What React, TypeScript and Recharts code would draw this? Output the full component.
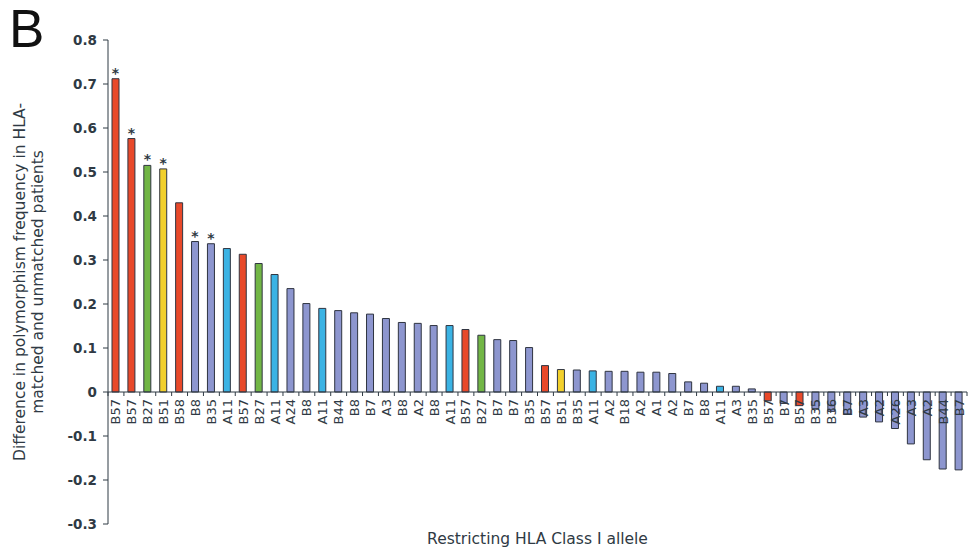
import React from "react";
import { BarChart, Bar, XAxis, YAxis, ReferenceLine, Cell, LabelList, Label } from "recharts";

// restricting allele for each bar, left to right
const alleles = [
  "B57", "B57", "B27", "B51", "B58", "B8", "B35", "A11", "B57", "B27",
  "A11", "A24", "B8", "A11", "B44", "B8", "B7", "A3", "B8", "A2",
  "B8", "A11", "B57", "B27", "B7", "B7", "B35", "B57", "B51", "B35",
  "A11", "A2", "B18", "A2", "A1", "A2", "B7", "B8", "A11", "A3",
  "B35", "B57", "B7", "B57", "B35", "B36", "B7", "A3", "A2", "A26",
  "A3", "A2", "B44", "B7",
];

const differences = [
  0.712, 0.576, 0.515, 0.507, 0.43, 0.342, 0.337, 0.326, 0.313, 0.292,
  0.267, 0.235, 0.201, 0.19, 0.185, 0.18, 0.177, 0.167, 0.158, 0.156,
  0.151, 0.151, 0.142, 0.129, 0.119, 0.117, 0.101, 0.06, 0.051, 0.05,
  0.048, 0.047, 0.047, 0.045, 0.045, 0.042, 0.023, 0.02, 0.013, 0.013,
  0.007, -0.02, -0.026, -0.031, -0.038, -0.044, -0.05, -0.057, -0.068, -0.083,
  -0.118, -0.154, -0.175, -0.177,
];

// bars marked with an asterisk (significant)
const starredBars = [0, 1, 2, 3, 5, 6];

const yTicks = [0.8, 0.7, 0.6, 0.5, 0.4, 0.3, 0.2, 0.1, 0, -0.1, -0.2, -0.3];

const data = alleles.map((allele, i) => ({
  allele,
  value: differences[i],
  star: starredBars.includes(i) ? "*" : "",
}));

const alleleColor: Record<string, string> = {
  B57: "#e8492a",
  B58: "#e8492a",
  B27: "#72b646",
  B51: "#f2d02c",
  A11: "#3bb3e4",
};
const otherColor = "#8d96cf";

const W = 971;
const H = 551;
const margin = { top: 40, right: 4, left: 0, bottom: 0 };
const Y_AXIS_W = 108;
const X_AXIS_H = 27;
const PLOT_H = H - margin.top - margin.bottom - X_AXIS_H;
const PLOT_W = W - margin.left - margin.right - Y_AXIS_W;
const ZERO_Y = margin.top + (PLOT_H * 0.8) / 1.1;
const BAND = PLOT_W / alleles.length;
const INK = "#2f3a44";

function AlleleTick(props: any) {
  const { x, payload, index } = props;
  const last = index === alleles.length - 1;
  return (
    <g>
      <line x1={x - BAND / 2} x2={x - BAND / 2} y1={ZERO_Y} y2={ZERO_Y + 4} stroke={INK} />
      {last && <line x1={x + BAND / 2} x2={x + BAND / 2} y1={ZERO_Y} y2={ZERO_Y + 4} stroke={INK} />}
      <text
        transform={`translate(${x}, ${ZERO_Y + 7}) rotate(-90)`}
        textAnchor="end"
        dominantBaseline="central"
        fontSize={13}
        fill={INK}
      >
        {payload.value}
      </text>
    </g>
  );
}

function YTitle() {
  return (
    <text transform="translate(25, 282) rotate(-90)" textAnchor="middle" fontSize={15.5} fill={INK}>
      <tspan x={0} dy={0}>Difference in polymorphism frequency in HLA-</tspan>
      <tspan x={0} dy={18}>matched and unmatched patients</tspan>
    </text>
  );
}

function XTitle() {
  return (
    <text x={Y_AXIS_W + PLOT_W / 2} y={544} textAnchor="middle" fontSize={15.5} fill={INK}>
      Restricting HLA Class I allele
    </text>
  );
}

function Star(props: any) {
  const { x, y, width, value } = props;
  if (!value) return null;
  return (
    <text x={x + width / 2} y={y - 1} textAnchor="middle" fontSize={14} fontWeight="bold" fill={INK}>
      {value}
    </text>
  );
}

export default function App() {
  return (
    <div style={{ position: "absolute", left: 0, top: 0, width: W, height: H, background: "#fff" }}>
      <div
        style={{
          position: "absolute",
          left: 9,
          top: 2,
          fontSize: 53,
          lineHeight: "53px",
          fontFamily: "'Liberation Sans', Arial, sans-serif",
          color: "#111",
        }}
      >
        B
      </div>
      <BarChart
        width={W}
        height={H}
        data={data}
        margin={margin}
        barSize={7}
        style={{ fontFamily: "'DejaVu Sans', Verdana, sans-serif" }}
      >
        <XAxis
          dataKey="allele"
          interval={0}
          height={X_AXIS_H}
          axisLine={false}
          tickLine={false}
          tick={<AlleleTick />}
        >
          <Label content={<XTitle />} />
        </XAxis>
        <YAxis
          width={Y_AXIS_W}
          domain={[-0.3, 0.8]}
          ticks={yTicks}
          interval={0}
          tickFormatter={(v: number) => (v === 0 ? "0" : v.toFixed(1))}
          tick={{ fontSize: 13.5, fontWeight: "bold", fill: INK }}
          tickSize={5}
          tickMargin={6}
          axisLine={{ stroke: INK }}
          tickLine={{ stroke: INK }}
        >
          <Label content={<YTitle />} />
        </YAxis>
        <ReferenceLine y={0} stroke={INK} />
        <Bar dataKey="value" stroke="#2f3440" strokeWidth={1} isAnimationActive={false}>
          {data.map((d, i) => (
            <Cell key={i} fill={alleleColor[d.allele] ?? otherColor} />
          ))}
          <LabelList dataKey="star" content={<Star />} />
        </Bar>
      </BarChart>
    </div>
  );
}
